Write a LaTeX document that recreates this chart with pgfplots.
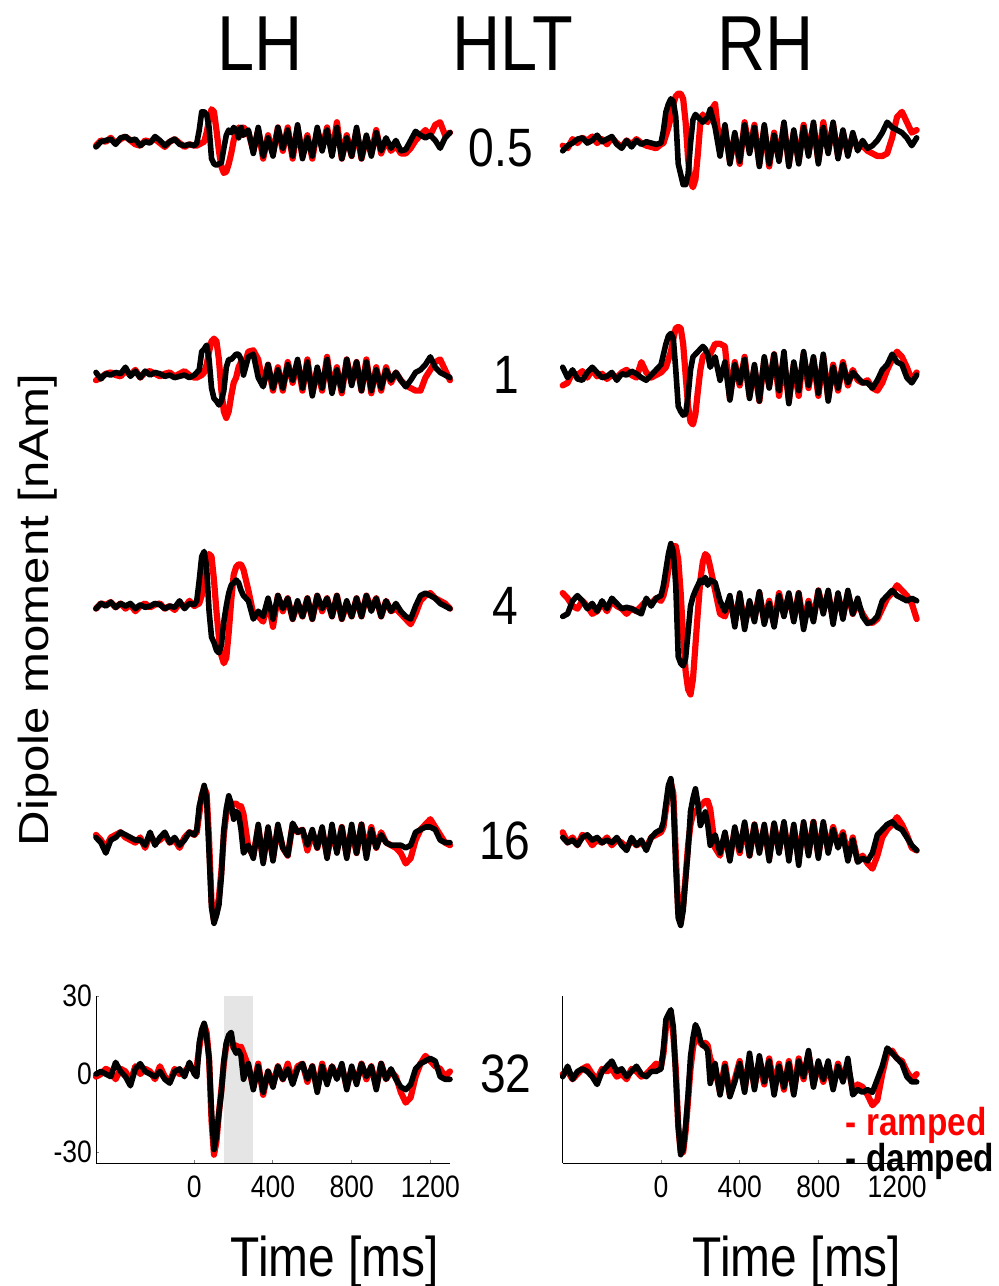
\documentclass[border=0pt]{standalone}
\usepackage{fontspec}
\setmainfont{Liberation Sans}[FakeStretch=0.855]
\newfontfamily\vfont{Liberation Sans}[FakeStretch=1.17]
\usepackage{pgfplots}
\pgfplotsset{compat=1.18}
\usepackage{pgfplotstable}

\pgfplotstableread{
t r d
-500 -1 -1.5
-475 1 0.5
-450 0.5 1
-425 2 1.5
-400 0 -0.5
-375 1.5 2
-350 2.5 2.5
-325 1 1
-300 -0.5 1.5
-275 -1 -1
-250 1 0.5
-225 0.5 0
-200 1.5 2.5
-175 0 1
-150 -1.5 -1
-125 0.5 0.5
-100 1.5 1.5
-75 0 -0.5
-50 -1.5 -1
-25 -0.5 -0.5
0 -1 -1
12.5 -1 0
25 -0.5 5
37.5 0 12
50 0.5 12
62.5 4 11
75 9 6
87.5 13 -6
100 12 -8
112.5 5 -8.5
125 -3 -8
137.5 -9 -7.5
150 -11.5 -2
162.5 -11 3
175 -8 5
187.5 -4 4
200 1 6
212.5 4 5
225 6 2
237.5 3 6
250 6 3
275 4 5
300 -3 -4
325 5 6
350 -6 -5
375 3 2
400 -4 -5
425 6 6
450 -3 -2
475 6 5
500 -6 -5
525 6 7
550 -5 -6
575 3 2
600 -6 -5
625 5 6
650 -2 -3
675 6 5
700 -4 -5
725 8 6
750 -6 -6
775 3 2
800 -5 -5
825 5 6
850 -6 -6
875 2 3
900 -4 -5
925 5 4
950 -4 -3
975 1 2
1000 -3 -2
1025 -1 1
1050 -4 -3
1075 -4 -2.5
1100 -2 1
1125 1 4.5
1150 3 3
1175 5 2
1200 3 3
1225 7 1
1250 8 -2
1275 3 2
1300 4 4
}\Lone

\pgfplotstableread{
t r d
-500 -1 -3
-475 -2 -1
-450 1.5 0
-425 0 1.5
-400 2 2
-375 1 0
-350 2.5 1
-325 0 3
-300 1.5 0.5
-275 -0.5 1.5
-250 2 2.5
-225 0 -0.5
-200 -1.5 -2
-175 1 1
-150 -0.5 -1.5
-125 1.5 1
-100 0 -0.5
-75 -1 0.5
-50 -1.5 0
-25 -2 -0.5
0 -0.5 0
12.5 0 5
25 3 12
37.5 6 15
50 10 17
62.5 15 16
75 18 10
87.5 19 -8
100 19 -12
112.5 17 -16
125 8 -16
137.5 -6 -12
150 -15 0
162.5 -17 9
175 -14 11
187.5 -4 10
200 8 9
212.5 11 8
225 9 9
237.5 8 10
250 12 13
275 15 6
300 -3 -5
325 6 7
350 -7 -8
375 3 4
400 -8 -7
425 8 7
450 -3 -4
475 7 6
500 -8 -9
525 6 7
550 -9 -8
575 4 3
600 -6 -7
625 7 8
650 -8 -9
675 4 5
700 -7 -8
725 7 6
750 -4 -5
775 7 8
800 -7 -8
825 8 6
850 -3 -4
875 7 8
900 -5 -6
925 4 5
950 -4 -5
975 3 4
1000 -2 -3
1025 -1 1
1050 -3 -2
1075 -4 -1
1100 -5 1
1125 -5 4
1150 -4 8
1175 2 6
1200 10 5
1225 12 4
1250 8 2
1275 4 -1
1300 5 2
}\Rone

\pgfplotstableread{
t r d
-500 -2 1
-475 -1 -1.5
-450 0.5 0.5
-425 1 0
-400 0 1
-375 -0.5 0.5
-350 1.5 3
-325 0 -0.5
-300 2 1.5
-275 -1 -1
-250 1 1.5
-225 1.5 0
-200 0.5 1
-175 -0.5 0.5
-150 0.5 -0.5
-125 1 0
-100 -0.5 -1
-75 0.5 -0.5
-50 1.5 0
-25 0 -1
0 -1 0
12.5 -1 1
25 -0.5 2
37.5 0 9
50 1 10
62.5 4 11.5
75 9 6
87.5 13 -5
100 14 -9
112.5 13 -10
125 6 -11.5
137.5 -6 -10
150 -14 -6
162.5 -16.5 3
175 -14 6
187.5 -8 6
200 -3 7
212.5 -1 8
225 3 8
237.5 5 6
250 3 0
275 9 7
300 9.5 8
325 6 -1
350 -4 -4.5
375 4 4
400 -6 -5
425 3 2
450 -6 -5
475 5 4
500 -3 -2
525 5 6
550 -6 -5
575 6 5
600 -7 -8
625 2 3
650 -6 -5
675 7 6
700 -6 -7
725 3 2
750 -7 -6
775 6 6
800 -3 -4
825 5 5
850 -6 -6
875 6 5
900 -7 -6
925 3 2
950 -6 -5
975 3 2
1000 -3 -2
1025 1 1
1050 -2 -2
1075 -4 -4.5
1100 -5 -2
1125 -6 1
1150 -6 2
1175 -1 4
1200 2 7
1225 5 3
1250 6 1
1275 2 0
1300 -2 -1
}\Ltwo

\pgfplotstableread{
t r d
-500 -4 3
-475 -3 -1
-450 1 2
-425 0 -1.5
-400 1.5 -2
-375 -1 1
-350 2 3
-325 -0.5 1
-300 0.5 -1
-275 -1.5 -0.5
-250 0 1
-225 -1 -2
-200 1 0.5
-175 2 0
-150 0 1.5
-125 -1 0.5
-100 5 -1
-75 1 -2
-50 -1 0
-25 0 2
0 1 4
12.5 2 8
25 3 12
37.5 6 15
50 9 16
62.5 14 14
75 18 2
87.5 18.5 -12
100 18 -14
112.5 12 -15.4
125 0 -15
137.5 -12 -8
150 -18 2
162.5 -19 7
175 -15 8
187.5 -6 9
200 2 10
212.5 7 11
225 8 10
237.5 7 8
250 8 3
275 12 7
300 12 -2
325 11 5
350 -9 -9.6
375 5 4
400 -4 -3
425 7 6
450 -8 -9
475 3 4
500 -10 -10
525 6 7
550 -4 -5
575 8 8
600 -8 -6
625 6 9
650 -10 -11
675 4 5
700 -8 -6
725 8 9
750 -5 -4
775 6 7
800 -8 -7
825 7 8
850 -9 -10
875 4 3
900 -6 -5
925 5 4
950 -4 -3
975 2 1
1000 -2 -1
1025 -3 -3
1050 -2 -3
1075 -5 -5
1100 -6 -2
1125 -3 2
1150 2 4
1175 6 8
1200 9 5
1225 7 4
1250 3 -1
1275 -2 -3
1300 1 0
}\Rtwo

\pgfplotstableread{
t r d
-500 -1 -1
-475 1 1
-450 0.5 0
-425 1.5 1.5
-400 -0.5 -0.5
-375 1 1
-350 -1 0
-325 0.5 1
-300 -2 -1
-275 0 0.5
-250 1 -0.5
-225 -0.5 0
-200 0.5 1
-175 1 0.5
-150 -1 -1
-125 0 0
-100 -1.5 -0.5
-75 1 2
-50 -0.5 -1
-25 2 1
0 0 0.5
12.5 0.5 2
25 1 10
37.5 4 19
50 10 21
62.5 18 15
75 20 -2
87.5 19 -12
100 10 -14
112.5 -2 -17
125 -12 -18
137.5 -19 -15
150 -22 -6
162.5 -20 0
175 -10 5
187.5 2 8
200 12 9
212.5 15 10
225 16 9
237.5 16 6
250 14 4
275 6 2
300 -3 -5
325 -4 -2
350 -6 -4
375 2 3
400 -8 -5
425 4 4
450 -2 -1
475 3 3
500 -5 -5
525 1 2
550 -4 -4
575 3 3
600 -5 -5
625 4 4
650 -2 -1
675 3 3
700 -4 -4
725 4 4
750 -5 -5
775 1 2
800 -4 -4
825 3 3
850 -4 -4
875 4 4
900 -1 -2
925 3 3
950 -4 -4
975 2 2
1000 -2 -2
1025 -1 1
1050 -3 -2
1075 -5 -4
1100 -7 -5
1125 -3 0
1150 2 4
1175 4 5
1200 5 4
1225 3 3
1250 2 1
1275 1 0
1300 -1 -1
}\Lthree

\pgfplotstableread{
t r d
-500 5 -4
-475 3 -3
-450 0 2
-425 -1 4
-400 2 2
-375 0 -1
-350 -3 1
-325 -2 -2
-300 1 2
-275 -2 -1
-250 2 3
-225 0 1
-200 -1 -1
-175 -3 -0.5
-150 -1 -1
-125 -2 -2
-100 0 -3
-75 2 3
-50 1 0
-25 3 3
0 2 4
12.5 4 8
25 8 14
37.5 14 20
50 19 24
62.5 23 21
75 23 8
87.5 18 -19.5
100 5 -22
112.5 -12 -23
125 -25 -20
137.5 -32 -10
150 -34 0
162.5 -28 3.6
175 -15 6
187.5 -2 8
200 10 10
212.5 17 9
225 20 11
237.5 19 8
250 15 10
275 6 9
300 -3 2
325 -4 -2
350 3 4
375 -6 -8
400 4 5
425 -7 -9
450 1 2
475 -5 -6
500 5 5.5
525 -6 -7
550 2 1
575 -7 -8
600 5 4
625 -3 -4
650 4 5
675 -5 -6
700 5 5
725 -7 -9
750 2 1
775 -5 -6
800 6 6
825 -2 -3
850 5 6
875 -5 -7
900 4 5
925 -4 -5
950 5 6
975 -3 -3
1000 1 3
1025 -3 -4
1050 -6 -6.7
1075 -6.5 -6
1100 -5 -4
1125 -1 2
1150 3 4
1175 5 6
1200 8 4
1225 6 3
1250 4 2
1275 1 3
1300 -5 2
}\Rthree

\pgfplotstableread{
t r d
-500 2 1
-475 0 -1
-450 -3 -5
-425 1 0
-400 2 1
-375 3 3
-350 1 2
-325 0 1
-300 -1 0
-275 1 0
-250 -3 -2
-225 2 3
-200 -1 -2
-175 0 1
-150 2 3
-125 -1 -1
-100 0 1
-75 -3 -2
-50 1 0
-25 3 3
0 2 2
12.5 3 4
25 10 13
37.5 17 17
50 20 21
62.5 18 16
75 0 -5
87.5 -24 -26
100 -31 -32
112.5 -28 -29
125 -22 -25
137.5 -12 -14
150 2 4
162.5 10 12
175 12 17
187.5 13 14
200 14 8
212.5 14 11
225 13 10
237.5 13 4
250 10 -5
275 -3 -2
300 -6 -7
325 5 6
350 -8 -9
375 4 5
400 -7 -8
425 5 6
450 -3 -3
475 -6 -6
500 6 6.5
525 3 3
550 4 4
575 -4 -2
600 3 4
625 -3 -3
650 4 5
675 -6 -7
700 3 6
725 -4 -5
750 5 5
775 -6 -7
800 4 6
825 -5 -5
850 6 6
875 -5 -7
900 5 4
925 -3 -3
950 3 2
975 -1 -1
1000 -2 -2
1025 -3 -2
1050 -5 -2
1075 -9 -3
1100 -7 -2
1125 0 3
1150 4 4
1175 6 5
1200 8 5
1225 5 4
1250 2 0
1275 -1 -1
1300 -2 -1
}\Lfour

\pgfplotstableread{
t r d
-500 3 1
-475 -1 -1
-450 1 0
-425 -2 -2
-400 2 1
-375 1 2
-350 -2 0
-325 0 1
-300 -1 -1
-275 1 0
-250 -2 -1
-225 0 1
-200 -1 -2
-175 -3 -4
-150 0 1
-125 -2 -2
-100 -1 0
-75 -3 -4
-50 1 1
-25 2 3
0 3 4
12.5 5 7
25 12 14
37.5 18 21
50 22 23.6
62.5 18 15
75 -5 -10
87.5 -28 -30
100 -32 -32.8
112.5 -25 -27
125 -14 -15
137.5 -2 -4
150 6 11
162.5 10 16
175 11 19.7
187.5 12 14
200 13 5.6
212.5 14 8
225 15 10.8
237.5 15 6
250 12 -2
275 -3 2
300 -6 -5
325 2 3
350 -7 -8
375 4 5
400 -5 -4
425 6 6.9
450 -6 -6
475 6 6
500 -4 -5
525 5 6
550 -7 -8
575 6 6.5
600 -4 -5
625 6 7
650 -6 -8
675 5 6
700 -7 -9.7
725 6 7
750 -5 -6
775 7 7
800 -6 -7
825 6 7
850 -4 -5
875 5 4
900 -2 -3
925 3 2
950 -6 -8
975 1 0
1000 -8 -8.5
1025 -6 -7
1050 -9 -8
1075 -11 -5
1100 -6 2
1125 1 4
1150 4 6
1175 6 7
1200 8.8 5
1225 6 4
1250 2 1
1275 -3 -2
1300 -4 -4
}\Rfour

\pgfplotstableread{
t r d
-500 -1 0
-475 0 1
-450 2 0
-425 1 -1
-400 -2 4.5
-375 2 1
-350 1 -1
-325 -3 -4.5
-300 3 2
-275 0 4
-250 2 1
-225 1 0
-200 -2 -1
-175 3 1
-150 -1 -2
-125 -3 -3.5
-100 2 1
-75 0 2
-50 1 -1
-25 3 4.5
0 1 0
12.5 3 -1
25 10 12
37.5 16 17
50 19 19.5
62.5 16 14
75 6 6
87.5 -18 -15
100 -31 -29
112.5 -26 -24
125 -15 -15
137.5 -6 -7
150 4 5
162.5 11 12
175 14 15
187.5 13 16
200 10 10
212.5 11 8
225 10 9
237.5 10.5 7
250 8 -2
275 3 4
300 -5 -6
325 4 3
350 -8 -7
375 1 1
400 -4 -5
425 3 3
450 -2 -2
475 4 2
500 -3 -4
525 3 2
550 4 4
575 -3 -2
600 3 3
625 -6 -7
650 4 3
675 -3 -4
700 3 3
725 -1 -2
750 3 4
775 -5 -6
800 2 3
825 -3 -4
850 4 4
875 -2 -1
900 3 3
925 -5 -6
950 4 4
975 -2 -2
1000 1 2
1025 -1 -2
1050 -7 -5
1075 -11 -6
1100 -9 -4
1125 -1 2
1150 4 4
1175 7 5
1200 5 6
1225 3 5
1250 2 -1
1275 -1 -2
1300 1 -2
}\Lfive

\pgfplotstableread{
t r d
-500 0 -1
-475 1 3
-450 -2 -2
-425 0 1
-400 2 2
-375 3 1
-350 0 -1
-325 -2 -4
-300 2 1
-275 1 3
-250 2 5
-225 -1 1
-200 0 2
-175 -2 -1
-150 2 1
-125 1 3
-100 -1 0
-75 0 -1
-50 2 1
-25 4 1
0 3 2
12.5 8 10
25 18 21
37.5 22 23
50 23 24.7
62.5 15 18
75 2 -1
87.5 -20 -20
100 -30 -31
112.5 -30 -29
125 -22 -20
137.5 -10 -8
150 2 6.7
162.5 10 14
175 15 19
187.5 14 17
200 12 13
212.5 11 11
225 12 10.5
237.5 11 9
250 6 -3.6
275 2 4
300 -7 -8
325 4 3
350 -8 -8.7
375 -2 -3
400 5 4
425 -6 -7
450 6 8
475 -5 -6
500 5 7
525 -4 -3
550 6 5
575 -5 -8
600 4 3
625 -6 -5
650 5 4
675 -7 -8
700 6 5
725 -2 -1
750 8 9
775 -4 -5
800 4 5
825 -3 -2
850 3 5
875 -5 -6
900 4 3
925 -2 -3
950 3 6
975 -6 -8
1000 -4 -6
1025 -5 -7
1050 -8 -6
1075 -12 -7
1100 -10 -2
1125 0 3
1150 8 10
1175 9 8
1200 6 6
1225 5 4
1250 1 -1
1275 -2 -3
1300 0 -3
}\Rfive

\pgfplotsset{
  panel/.style={scale only axis, width=177pt, height=83.5pt,
    xmin=-500, xmax=1300, ymin=-34.2, ymax=30, clip=false},
  hidden/.style={panel, hide axis},
  ramped/.style={color=red, line width=3.1pt, line join=round, line cap=round, no marks},
  damped/.style={color=black, line width=2.8pt, line join=round, line cap=round, no marks},
  bottom/.style={panel, axis lines=left, axis line style={-, line width=0.5pt},
    tick align=inside, major tick length=1.7pt, tick style={line width=0.5pt},
    xtick={0,400,800,1200}, xticklabels={0,400,800,1200},
    /pgf/number format/assume math mode=true,
    tick label style={font=\fontsize{15.5}{15.5}\selectfont},
    xticklabel style={yshift=-3pt},
    yticklabel style={xshift=1.5pt},
    xlabel={Time [ms]},
    xlabel style={anchor=center, font=\fontsize{28}{28}\selectfont}},
}

\begin{document}
\begin{tikzpicture}
\path[use as bounding box] (0,0) rectangle (499.5pt,-643pt);

\node[anchor=base, font=\fontsize{39}{39}\selectfont, inner sep=0pt] at (130pt,-35pt) {LH};
\node[anchor=base, font=\fontsize{39}{39}\selectfont, inner sep=0pt] at (256.5pt,-35pt) {HLT};
\node[anchor=base, font=\fontsize{39}{39}\selectfont, inner sep=0pt] at (383pt,-35pt) {RH};

\node[rotate=90, font=\vfont\fontsize{21}{21}\selectfont, inner sep=0pt] at (19pt,-305pt) {Dipole moment [nAm]};

\begin{scope}[every node/.style={font=\fontsize{27}{27}\selectfont, inner sep=0pt}]
\node at (250.5pt,-74pt) {0.5};
\node at (253pt,-187.5pt) {1};
\node at (252.5pt,-303pt) {4};
\node at (252.5pt,-420.5pt) {16};
\node at (253pt,-537pt) {32};
\end{scope}

% row 1
\begin{axis}[hidden, at={(48pt,-116pt)}, anchor=south west]
\addplot[ramped] table[x=t,y=r]{\Lone};
\addplot[damped] table[x=t,y=d]{\Lone};
\end{axis}
\begin{axis}[hidden, at={(281.35pt,-116pt)}, anchor=south west]
\addplot[ramped] table[x=t,y=r]{\Rone};
\addplot[damped] table[x=t,y=d]{\Rone};
\end{axis}
% row 2
\begin{axis}[hidden, at={(48pt,-232pt)}, anchor=south west]
\addplot[ramped] table[x=t,y=r]{\Ltwo};
\addplot[damped] table[x=t,y=d]{\Ltwo};
\end{axis}
\begin{axis}[hidden, at={(281.35pt,-232pt)}, anchor=south west]
\addplot[ramped] table[x=t,y=r]{\Rtwo};
\addplot[damped] table[x=t,y=d]{\Rtwo};
\end{axis}
% row 3
\begin{axis}[hidden, at={(48pt,-347.5pt)}, anchor=south west]
\addplot[ramped] table[x=t,y=r]{\Lthree};
\addplot[damped] table[x=t,y=d]{\Lthree};
\end{axis}
\begin{axis}[hidden, at={(281.35pt,-347.5pt)}, anchor=south west]
\addplot[ramped] table[x=t,y=r]{\Rthree};
\addplot[damped] table[x=t,y=d]{\Rthree};
\end{axis}
% row 4
\begin{axis}[hidden, at={(48pt,-464.5pt)}, anchor=south west]
\addplot[ramped] table[x=t,y=r]{\Lfour};
\addplot[damped] table[x=t,y=d]{\Lfour};
\end{axis}
\begin{axis}[hidden, at={(281.35pt,-464.5pt)}, anchor=south west]
\addplot[ramped] table[x=t,y=r]{\Rfour};
\addplot[damped] table[x=t,y=d]{\Rfour};
\end{axis}
% row 5
\begin{axis}[bottom, at={(48pt,-581.5pt)}, anchor=south west,
  ytick={-30,0,30}, yticklabels={-30,0,30},
  xlabel style={at={(axis description cs:0.675,-0.59)}}]
\addplot[fill=black!10, draw=none, forget plot] coordinates {(150,-34.2) (150,30) (300,30) (300,-34.2)} -- cycle;
\addplot[ramped] table[x=t,y=r]{\Lfive};
\addplot[damped] table[x=t,y=d]{\Lfive};
\end{axis}
\begin{axis}[bottom, at={(281.35pt,-581.5pt)}, anchor=south west,
  ytick=\empty,
  xlabel style={at={(axis description cs:0.662,-0.59)}},
  legend image code/.code={},
  legend cell align=left,
  legend style={draw=none, fill=none, at={(axis description cs:0.80,0.326)}, anchor=north west,
    inner sep=0pt, outer sep=0pt, row sep=0pt,
    font=\bfseries\fontsize{19.5}{19.5}\selectfont,
    nodes={inner sep=0pt, text height=13.5pt, text depth=4.5pt}}]
\addplot[ramped] table[x=t,y=r]{\Rfive};
\addlegendentry{\textcolor{red}{- ramped}}
\addplot[damped] table[x=t,y=d]{\Rfive};
\addlegendentry{\textcolor{black}{- damped}}
\end{axis}
\end{tikzpicture}
\end{document}
